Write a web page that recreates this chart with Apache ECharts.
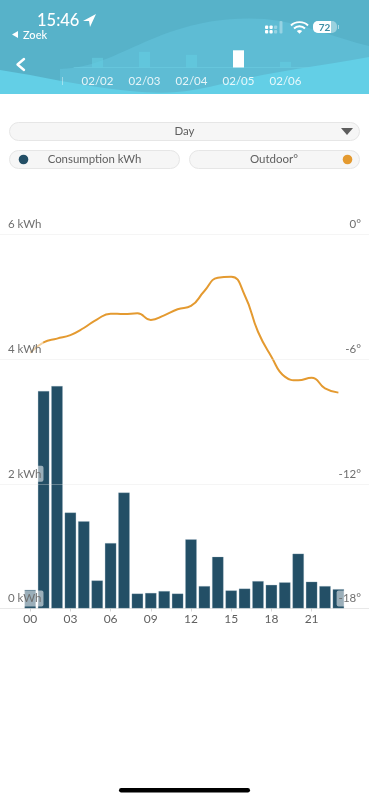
<!DOCTYPE html>
<html>
<head>
<meta charset="utf-8">
<style>html,body{margin:0;padding:0;background:#fff;overflow:hidden}#c{width:369px;height:800px}</style>
<script src="https://cdn.jsdelivr.net/npm/echarts@6/dist/echarts.min.js"></script>
</head>
<body>
<div id="c"></div>
<script>
const hours = ['00','01','02','03','04','05','06','07','08','09','10','11','12','13','14','15','16','17','18','19','20','21','22','23'];
const consumption = [0.30,3.49,3.57,1.54,1.40,0.45,1.05,1.86,0.24,0.25,0.28,0.24,1.11,0.36,0.83,0.29,0.32,0.44,0.38,0.42,0.88,0.43,0.36,0.31];
const outdoor = [-5.69,-5.19,-5.01,-4.84,-4.50,-4.08,-3.81,-3.83,-3.79,-4.11,-3.89,-3.60,-3.44,-2.72,-2.08,-2.03,-2.91,-4.68,-5.88,-6.84,-7.02,-6.89,-7.40,-7.61];
const days = ['02/02','02/03','02/04','02/05','02/06'];
const dayValues = [9.7,15.7,12.7,17.2,5.7];
const selectedDay = '02/05';

const UI = 'Lato, "Noto Sans", sans-serif';
const INK = '#5f5f5f';
const chart = echarts.init(document.getElementById('c'), null, {renderer:'canvas'});

let pathCount = 0;
function svg(d, style){
  const name = 'p' + (pathCount++);
  echarts.graphic.registerShape(name, echarts.graphic.extendPath(d));
  return {type:name, shape:{}, style:style, z:3};
}
function pill(x,y,w,h){
  return {type:'rect',shape:{x:x+.5,y:y+.5,width:w-1,height:h-1,r:h/2},style:{fill:'#f6f6f6',stroke:'#e6e6e6',lineWidth:1},z:1};
}
function txt(x,y,t,font,fill,align){
  return {type:'text',x:x,y:y,style:{text:t,font:font,fill:fill,align:align||'left',verticalAlign:'middle'},z:3};
}
const header = [
  {type:'rect',shape:{x:0,y:0,width:369,height:94},style:{fill:'#57b2c9'},z:0},
  {...svg('M60 69 C100 68 125 48 170 32 C205 20 235 17 265 19 C300 22 335 38 369 46 L369 94 L60 94 Z',{fill:'#5ebcd4'}),z:0},
  {...svg('M0 70 C40 76 80 86 130 91 C170 95 190 92 230 82 C275 71 320 66 369 57 L369 94 L0 94 Z',{fill:'#63cfe6'}),z:0},
  {type:'rect',shape:{x:62,y:77,width:1,height:8},style:{fill:'rgba(255,255,255,.4)'},z:1},
  txt(37,20.5,'15:46','500 16.5px '+UI,'#fff'),
  svg('M83 21 L96 14 L90 27 L89 21 Z',{fill:'#fff'}),
  svg('M12 34.5 L18 31 L18 38 Z',{fill:'#fff'}),
  txt(23,35,'Zoek','500 11px '+UI,'#fff'),
  svg('M24 59 L17.5 64.5 L24 70',{fill:null,stroke:'#fff',lineWidth:2.4,lineCap:'round',lineJoin:'round'}),
  ...[[265,30],[265,25.5],[269.5,30],[269.5,25.5],[274,30],[274,25.5]].map((p,i)=>({type:'rect',shape:{x:p[0],y:p[1],width:3.2,height:3.5,r:1},style:{fill:i<4?'#fff':'rgba(255,255,255,.35)'},z:3})),
  {type:'rect',shape:{x:279.5,y:21,width:3,height:12.5,r:1},style:{fill:'rgba(255,255,255,.35)'},z:3},
  svg('M291 25.5 C295 21 304 21 308 25.5 M294 28.5 C297 25.5 302 25.5 305 28.5',{fill:null,stroke:'#fff',lineWidth:1.9}),
  svg('M296.8 31 C298.5 29.7 300.5 29.7 302.2 31 L299.5 33.8 Z',{fill:'#fff'}),
  {type:'rect',shape:{x:313,y:21,width:24,height:12,r:5},style:{fill:'rgba(255,255,255,.4)'},z:3},
  svg('M318 21 L331 21 L331 33 L318 33 A5 5 0 0 1 313 28 L313 26 A5 5 0 0 1 318 21 Z',{fill:'#fff'}),
  {type:'rect',shape:{x:338,y:25,width:1,height:4},style:{fill:'rgba(255,255,255,.5)'},z:3},
  txt(324.5,27.5,'72','700 10px '+UI,'#3f8ea5','center')
];
const controls = [
  pill(9,122,351,19),
  txt(184.5,131.5,'Day','11.5px '+UI,INK,'center'),
  svg('M341 128 L353 128 L347 135 Z',{fill:'#5d5d5d'}),
  pill(9,150,171,19),
  {type:'circle',shape:{cx:23.5,cy:159.5,r:4.8},style:{fill:'#234f66'},z:3},
  txt(94.5,159.5,'Consumption kWh','11.4px '+UI,INK,'center'),
  pill(189,150,171,19),
  txt(274,159.5,'Outdoor°','11.5px '+UI,INK,'center'),
  {type:'circle',shape:{cx:347.5,cy:159.5,r:4.8},style:{fill:'#e49a30'},z:3},
  {type:'rect',shape:{x:119,y:788,width:131,height:4.5,r:2.2},style:{fill:'#000'},z:3}
];
const labelBox = {backgroundColor:'rgba(255,255,255,.55)',borderRadius:2,padding:[2,2,2,1]};

chart.setOption({
  animation:false,
  backgroundColor:'#fff',
  graphic:{elements:[...header,...controls]},
  grid:[
    {left:23.5,width:321.6,top:234.5,height:374},
    {left:0,right:0,top:234.5,height:374},
    {left:74,width:235,top:47.5,height:20}
  ],
  xAxis:[
    {gridIndex:0,type:'category',data:hours,
     axisLine:{show:false},
     axisTick:{show:true,alignWithLabel:true,interval:2,length:3,lineStyle:{color:'#d6d6d6'}},
     axisLabel:{interval:2,color:INK,fontFamily:UI,fontSize:12,margin:5}},
    {gridIndex:1,type:'value',min:0,max:1,axisLine:{show:true,onZero:false,lineStyle:{color:'#ececec',width:1}},axisTick:{show:false},axisLabel:{show:false},splitLine:{show:false}},
    {gridIndex:2,type:'category',data:days,
     axisLine:{show:true,lineStyle:{color:'rgba(110,205,225,.55)',width:1}},axisTick:{show:false},
     axisLabel:{color:'rgba(255,255,255,.85)',fontFamily:UI,fontSize:11.5,margin:8}}
  ],
  yAxis:[
    {gridIndex:0,type:'value',min:0,max:6,show:false},
    {gridIndex:0,type:'value',min:-18,max:0,show:false},
    {gridIndex:1,type:'value',min:0,max:6,interval:2,position:'left',z:10,
     axisLine:{show:false},axisTick:{show:false},
     splitLine:{show:true,lineStyle:{color:'rgba(225,225,225,.35)',width:1}},
     axisLabel:{inside:true,margin:7,align:'left',verticalAlign:'bottom',padding:[0,0,2,0],
       formatter:v=>'{a|'+v+' kWh}',
       rich:{a:{color:'#6f6f6f',fontFamily:UI,fontSize:11.5,...labelBox}}}},
    {gridIndex:1,type:'value',min:-18,max:0,interval:6,position:'right',z:10,
     axisLine:{show:false},axisTick:{show:false},splitLine:{show:false},
     axisLabel:{inside:true,margin:7,align:'right',verticalAlign:'bottom',padding:[0,0,2,0],
       formatter:v=>'{a|'+v+'°}',
       rich:{a:{color:'#6f6f6f',fontFamily:UI,fontSize:11.5,backgroundColor:labelBox.backgroundColor,borderRadius:2,padding:[2,1,2,2]}}}},
    {gridIndex:2,type:'value',min:0,max:20,show:false}
  ],
  series:[
    {type:'bar',name:'Consumption kWh',xAxisIndex:0,yAxisIndex:0,data:consumption,barWidth:11.5,z:2,
     itemStyle:{color:'#234f66',borderColor:'rgba(150,180,195,.5)',borderWidth:.5}},
    {type:'line',name:'Outdoor°',xAxisIndex:0,yAxisIndex:1,data:outdoor,smooth:true,showSymbol:false,z:3,
     lineStyle:{color:'#e49a30',width:2}},
    {type:'bar',xAxisIndex:2,yAxisIndex:4,barWidth:11,z:2,
     data:dayValues.map((v,i)=>({value:v,itemStyle:{color:days[i]===selectedDay?'#fff':'rgba(100,205,225,.6)'}}))}
  ]
});
</script>
</body>
</html>
